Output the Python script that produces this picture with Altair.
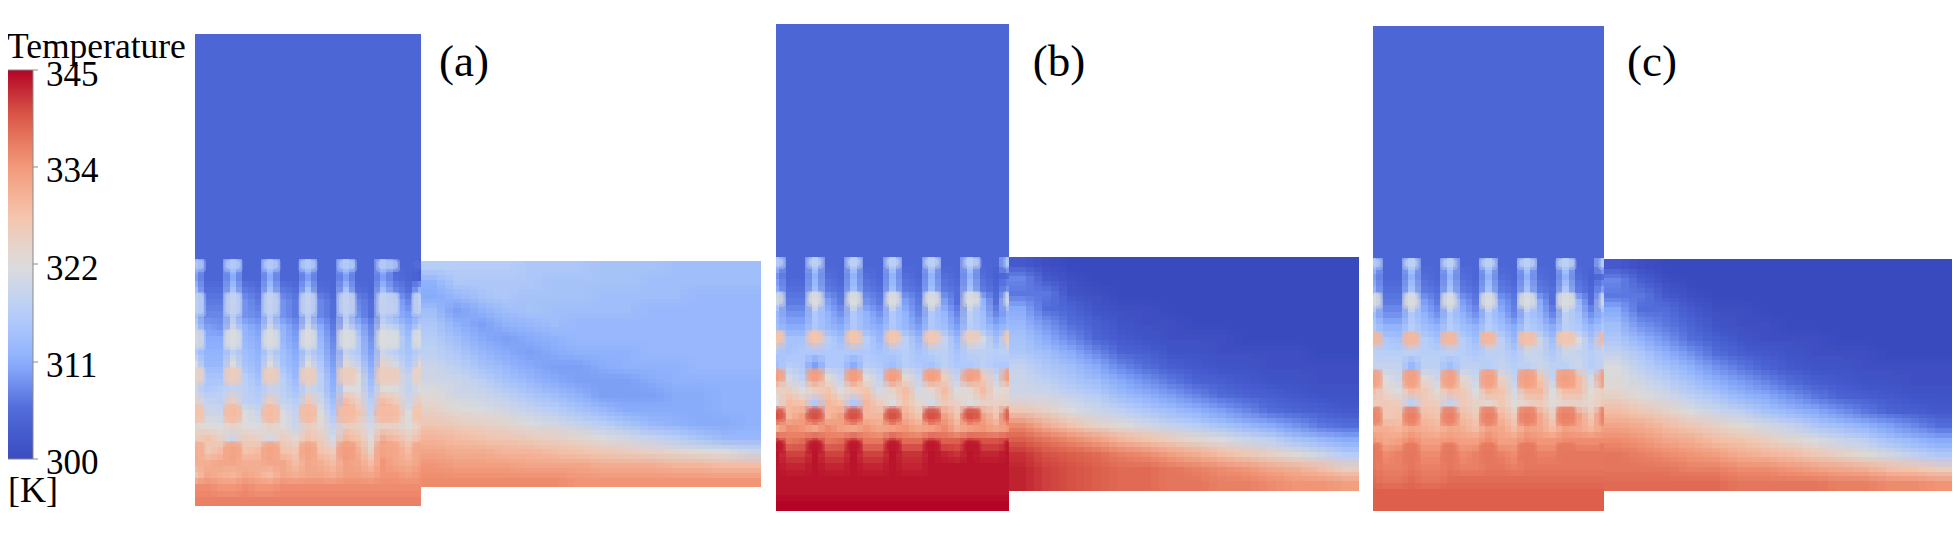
import altair as alt
import pandas as pd

# colour bar
cbar_stops = [300, 305.625, 311.25, 316.875, 322.5, 328.125, 333.75, 339.375, 345]
cbar_colors = ["#3b4cc0", "#4f69d9", "#8db0fe", "#b6cefa", "#dddcdc", "#f5c4ac", "#f49a7b", "#dc5d4a", "#b40426"]
cbar_ticks = [300, 311.25, 322.5, 333.75, 345]
cbar_labels = ["300", "311", "322", "334", "345"]
cbar_label_y = [463, 366, 269, 171, 75]
cbar_tick_y = [459, 362, 264, 167, 70]

# upper block temperature (uniform in all three panels)
upper_t = [305, 305, 305]

# temperature grids (K)
junction_a = [
[312,305,305,314,305,305,314,305,305,314,305,305,314,305,305,313,305,305,303],
[310,305,305,311,305,305,311,305,305,310,305,305,310,305,305,310,306,305,304],
[314,306,306,315,307,306,315,307,306,315,306,305,315,306,305,314,308,306,312],
[316,307,307,318,309,307,318,309,307,318,308,306,318,308,306,318,312,308,316],
[314,308,308,316,309,308,316,309,307,316,308,306,316,309,306,316,312,310,313],
[318,310,309,320,312,310,320,312,309,320,311,307,320,313,308,320,317,312,318],
[320,311,311,322,313,311,322,313,310,322,313,308,322,316,309,323,320,314,321],
[316,312,312,318,314,312,318,314,311,318,314,309,319,316,310,320,317,315,318],
[322,313,313,323,315,313,323,315,312,323,316,310,324,319,311,325,321,316,324],
[325,315,315,326,317,314,326,317,313,326,318,311,327,323,313,327,325,319,325],
[320,316,317,319,318,316,319,318,315,320,318,312,322,322,315,323,322,319,322],
[325,319,318,326,318,317,326,319,317,327,320,314,329,325,317,329,326,320,326],
[330,320,320,331,322,320,331,322,319,331,323,316,332,328,319,332,329,322,328],
[324,323,322,325,323,322,325,323,320,326,324,319,326,325,321,325,325,323,326],
[326,328,325,320,326,325,321,326,324,328,326,321,330,328,323,331,329,326,329],
[332,327,329,334,328,329,334,328,327,334,328,326,335,331,325,335,332,329,332],
[331,331,332,332,331,331,332,332,329,332,331,329,333,332,329,334,332,331,333],
[328,332,331,330,332,331,329,332,331,332,332,331,333,333,332,334,334,333,334],
[335,335,334,334,335,334,334,335,335,335,335,335,335,335,335,335,335,335,335],
[336,336,336,336,336,336,336,336,336,336,336,336,336,336,336,336,336,336,336],
]
duct_a = [
[317,317,317,317,316,316,316,315,315,315,314,314,314,314],
[312,316,316,316,316,315,315,315,315,314,314,314,314,314],
[311,313,315,316,315,315,315,314,314,314,314,313,313,313],
[314,310,312,314,315,314,314,314,314,313,313,313,313,313],
[316,312,310,312,313,314,313,313,313,313,313,313,313,313],
[317,314,311,310,311,312,313,313,313,313,313,313,313,313],
[318,316,313,311,310,311,312,312,312,313,313,313,313,313],
[320,318,315,313,311,310,310,311,312,312,312,313,313,313],
[321,320,318,315,313,311,310,310,310,311,312,312,312,312],
[323,321,320,318,316,314,312,310,310,310,311,311,312,312],
[325,323,322,321,319,317,315,313,311,311,311,311,312,312],
[327,326,325,324,322,321,319,317,315,313,312,311,311,312],
[330,329,328,327,326,325,324,322,321,319,317,315,313,313],
[332,331,331,330,330,329,328,327,326,325,324,323,322,320],
[334,333,333,333,332,332,332,331,331,331,330,330,329,329],
[335,335,335,335,335,335,334,334,334,334,334,334,334,334],
]
junction_b = [
[314,305,305,316,305,305,316,305,305,316,305,305,316,305,305,316,305,305,314],
[309,305,305,312,306,305,312,306,305,312,306,305,312,306,305,312,306,304,306],
[311,306,306,314,307,306,314,307,306,314,307,306,314,307,306,315,307,305,309],
[318,307,307,322,310,307,322,309,307,322,310,307,322,310,306,322,312,306,318],
[313,309,309,316,312,309,316,312,309,316,312,308,316,313,308,318,314,308,312],
[314,311,311,316,313,311,316,313,311,316,313,310,316,314,310,317,315,311,314],
[328,315,315,328,317,314,328,317,313,327,318,313,327,319,313,325,321,314,325],
[316,315,316,316,316,316,316,316,315,316,317,315,317,318,315,318,318,317,318],
[314,317,316,310,316,316,311,317,316,314,317,316,315,318,316,316,318,316,316],
[333,321,318,333,323,319,334,323,319,334,324,319,333,326,319,333,327,320,333],
[325,326,322,326,328,322,326,328,321,325,329,321,324,329,322,324,329,323,324],
[322,329,328,316,330,328,316,330,326,322,328,324,321,327,325,322,325,325,325],
[340,330,333,340,330,333,340,330,330,340,331,328,340,333,328,339,333,328,338],
[331,335,334,332,335,333,332,334,332,333,334,332,333,335,331,333,334,332,334],
[341,337,338,341,337,338,341,337,337,341,338,338,341,339,339,341,340,340,341],
[344,341,341,344,341,341,344,341,341,344,342,342,344,343,342,344,343,343,344],
[344,343,343,344,343,343,344,343,343,344,343,343,344,344,344,344,344,344,344],
[344,344,344,344,344,344,344,344,344,344,344,344,344,344,344,344,344,344,344],
[344,344,344,344,344,344,344,344,344,344,344,344,344,344,344,344,344,344,344],
[345,345,345,345,345,345,345,345,345,345,345,345,345,345,345,345,345,345,345],
]
duct_b = [
[303,301,300,300,300,300,300,300,300,300,300,300,300,300],
[308,303,301,300,300,300,300,300,300,300,300,300,300,300],
[307,307,302,301,300,300,300,300,300,300,300,300,300,300],
[311,306,305,302,301,301,300,300,300,300,300,300,300,300],
[313,309,306,304,302,301,301,300,300,300,300,300,300,300],
[315,311,308,305,303,302,301,301,301,300,300,300,300,300],
[316,314,311,308,305,304,302,302,301,301,301,301,300,300],
[319,316,314,311,308,306,304,303,302,302,301,301,301,301],
[320,318,316,314,311,309,307,305,304,303,302,302,301,301],
[321,321,319,317,314,312,310,308,306,305,304,303,302,302],
[327,325,322,320,318,316,314,312,310,308,306,305,304,303],
[335,331,328,325,323,321,319,317,315,313,311,309,307,306],
[339,337,335,333,330,328,326,324,322,320,318,315,313,311],
[342,340,339,338,336,335,333,331,329,327,325,323,320,317],
[343,341,340,339,338,338,337,336,335,334,332,331,329,326],
[343,341,340,339,338,338,337,337,336,336,335,334,334,333],
]
junction_c = [
[314,305,305,316,305,305,316,305,305,316,305,305,316,305,305,316,305,305,315],
[310,305,305,312,306,305,312,306,305,312,306,305,312,306,305,312,306,304,306],
[312,306,306,315,307,306,315,307,306,315,307,306,315,307,306,316,307,305,310],
[319,307,307,322,310,307,322,310,307,322,310,307,322,311,306,322,313,306,318],
[314,309,309,316,312,309,316,312,309,316,312,308,316,313,308,318,315,309,313],
[316,312,312,317,314,312,317,314,312,317,314,311,317,315,311,318,316,312,316],
[329,316,315,329,317,315,329,317,314,328,318,313,328,320,314,326,322,315,327],
[318,317,317,318,317,317,318,317,316,318,318,316,320,319,316,320,319,317,319],
[319,319,319,313,318,318,314,318,318,317,319,317,318,320,318,318,320,317,319],
[332,322,320,333,324,320,333,324,320,333,325,319,334,328,319,334,329,321,333],
[329,324,322,329,327,323,329,327,322,330,328,321,330,330,322,329,329,323,326],
[326,327,326,318,327,326,319,327,325,324,327,323,325,327,323,325,325,324,327],
[335,327,328,336,329,328,336,329,327,336,330,326,336,332,326,336,333,327,335],
[331,331,330,332,331,330,332,331,329,333,332,329,333,332,329,333,332,330,333],
[334,332,333,335,333,333,334,333,333,335,333,333,335,334,334,335,335,335,335],
[337,335,336,337,335,335,337,335,336,337,336,335,337,336,336,337,337,337,337],
[337,336,336,337,336,336,337,336,336,337,337,336,337,337,337,337,337,337,337],
[338,337,337,338,337,337,338,338,338,338,338,338,338,338,338,338,338,338,338],
[339,339,339,339,339,339,339,339,339,339,339,339,339,339,339,339,339,339,339],
[339,339,339,339,339,339,339,339,339,339,339,339,339,339,339,339,339,339,339],
]
duct_c = [
[303,301,300,300,300,300,300,300,300,300,300,300,300,300],
[308,304,301,300,300,300,300,300,300,300,300,300,300,300],
[307,307,303,301,300,300,300,300,300,300,300,300,300,300],
[311,306,306,303,301,301,300,300,300,300,300,300,300,300],
[314,309,307,305,302,301,301,300,300,300,300,300,300,300],
[316,312,309,306,304,302,301,301,301,300,300,300,300,300],
[319,316,312,309,306,304,303,302,301,301,301,300,300,300],
[322,318,315,312,309,307,305,303,302,302,301,301,301,301],
[323,321,318,315,312,310,308,306,304,303,302,302,301,301],
[325,323,321,318,316,313,311,309,307,305,304,303,302,302],
[329,327,325,322,320,318,315,313,311,309,307,305,304,303],
[332,331,329,327,325,323,321,319,316,314,312,310,308,306],
[335,334,332,331,329,328,326,324,322,320,318,315,313,311],
[337,336,335,334,333,331,330,329,327,325,323,321,318,316],
[337,337,337,336,336,335,335,334,333,332,331,329,328,326],
[338,338,338,338,338,337,337,337,337,336,336,335,335,334],
]

# warm spots behind each tube: one list per tube row, top to bottom, seven tubes left to right
spots_a = [
[316,317,317,317,317,317,306],
[318,319,319,319,319,319,319],
[321,322,322,322,322,322,322],
[325,326,326,326,326,326,325],
[328,329,329,329,329,329,328],
[331,332,332,332,333,332,332],
]
spots_b = [
[317,318,318,318,318,318,316],
[321,322,322,322,322,322,320],
[328,328,328,328,327,326,327],
[333,333,333,333,333,333,333],
[340,340,340,340,340,340,339],
[344,344,344,344,344,344,344],
]
spots_c = [
[317,318,318,318,318,318,317],
[322,322,322,322,322,322,320],
[330,330,330,330,329,328,330],
[333,333,333,333,333,333,333],
[336,336,336,336,336,336,336],
[337,337,337,337,337,337,337],
]

panel_labels = ["(a)", "(b)", "(c)"]
label_x = [464, 1059, 1652]
label_y = [62, 62, 62]

# panel geometry: block left/right/top, junction top/bottom, duct top/bottom/right
geom = [
    dict(l=195, r=421, top=34, jt=259, jb=506, dt=261, db=487, dr=761,
         sx=[197, 233, 271, 308, 347, 388, 418], sw=[18, 19, 19, 19, 20, 24, 14],
         sy=[259, 292, 329, 367, 405, 442], sh=[13, 25, 21, 18, 18, 18]),
    dict(l=776, r=1009, top=24, jt=257, jb=511, dt=257, db=491, dr=1359,
         sx=[778, 815, 854, 893, 932, 972, 1007], sw=[15, 17, 17, 17, 18, 19, 8],
         sy=[257, 291, 330, 369, 408, 440], sh=[12, 16, 13, 13, 14, 14]),
    dict(l=1373, r=1604, top=26, jt=258, jb=511, dt=259, db=491, dr=1952,
         sx=[1375, 1411, 1449, 1488, 1527, 1566, 1603], sw=[15, 17, 17, 18, 20, 21, 9],
         sy=[258, 292, 331, 369, 406, 442], sh=[12, 17, 15, 20, 20, 22]),
]
grids = [(junction_a, duct_a), (junction_b, duct_b), (junction_c, duct_c)]
spots = [spots_a, spots_b, spots_c]


def edges(lo, hi, n, shift, half_ends=False):
    """Cell edges of n cells over [lo, hi], moved by shift and kept inside [lo, hi]."""
    if half_ends:
        w = (hi - lo) / (n - 1)
        e = [lo + (i - 0.5) * w for i in range(n + 1)]
    else:
        w = (hi - lo) / n
        e = [lo + i * w for i in range(n + 1)]
    e = [min(hi, max(lo, v + shift * w)) for v in e]
    e[0], e[-1] = lo, hi
    return [round(v) for v in e]


rows = []
shifts4 = [(-0.25, -0.25), (0.25, -0.25), (-0.25, 0.25), (0.25, 0.25)]
shifts9 = [(a, b) for a in (-1 / 3, 0, 1 / 3) for b in (-1 / 3, 0, 1 / 3)]


def add_grid(grid, xlo, xhi, ylo, yhi, half_ends, shifts):
    nr, nc = len(grid), len(grid[0])
    for k, (sx, sy) in enumerate(shifts):
        xe = edges(xlo, xhi, nc, sx, half_ends)
        ye = edges(ylo, yhi, nr, sy)
        for r in range(nr):
            for c in range(nc):
                if xe[c + 1] > xe[c] and ye[r + 1] > ye[r]:
                    rows.append(dict(x=xe[c], x2=xe[c + 1], y=ye[r], y2=ye[r + 1], t=grid[r][c], o=1 / (k + 1)))


for g, tu in zip(geom, upper_t):
    rows.append(dict(x=g["l"], x2=g["r"], y=g["top"], y2=g["jt"], t=tu, o=1.0))
for g, (jg, dg) in zip(geom, grids):
    add_grid(dg, g["r"], g["dr"], g["dt"], g["db"], False, shifts9)
for g, (jg, dg) in zip(geom, grids):
    add_grid(jg, g["l"], g["r"], g["jt"], g["jb"], True, shifts4)

cells = pd.DataFrame(rows)

spot_rows = []
for g, sp in zip(geom, spots):
    for r, row in enumerate(sp):
        for c, t in enumerate(row):
            cx, w, top, h = g["sx"][c], g["sw"][c], g["sy"][r], g["sh"][r]
            for inset, op in ((0, 0.4), (2, 0.5), (3, 0.4)):
                x0 = max(g["l"], cx - w / 2 + inset)
                x1 = min(g["r"], cx + w / 2 - inset)
                y0 = top + inset / 2
                y1 = top + h - inset * 1.2
                if x1 > x0 and y1 > y0:
                    spot_rows.append(dict(x=x0, x2=x1, y=y0, y2=y1, t=t, o=op))
spot_df = pd.DataFrame(spot_rows)

X = alt.Scale(domain=[8, 1952])
Y = alt.Scale(domain=[527, 8])
FONT = "Liberation Serif"
CS = alt.Scale(domain=cbar_stops, range=cbar_colors, interpolate="rgb")

field = alt.Chart(cells).mark_rect(strokeWidth=0).encode(
    x=alt.X("x:Q", scale=X, axis=None),
    x2="x2:Q",
    y=alt.Y("y:Q", scale=Y, axis=None),
    y2="y2:Q",
    opacity=alt.Opacity("o:Q", scale=None, legend=None),
    color=alt.Color(
        "t:Q",
        scale=CS,
        legend=alt.Legend(
            type="gradient", orient="none", legendX=-3, legendY=62,
            title=None, padding=0,
            gradientLength=389, gradientThickness=28,
            gradientStrokeColor="#888888", gradientStrokeWidth=1,
            values=cbar_ticks, labelOpacity=0, labelFontSize=1,
        ),
    ),
)

spot_layer = alt.Chart(spot_df).mark_rect(strokeWidth=0, cornerRadius=3).encode(
    x=alt.X("x:Q", scale=X, axis=None),
    x2="x2:Q",
    y=alt.Y("y:Q", scale=Y, axis=None),
    y2="y2:Q",
    opacity=alt.Opacity("o:Q", scale=None, legend=None),
    color=alt.Color("t:Q", scale=CS, legend=None),
)

tick_df = pd.DataFrame({"y": cbar_tick_y, "a": [33] * 5, "b": [38] * 5})
tick_rule = alt.Chart(tick_df).mark_rule(color="#888888", strokeWidth=1).encode(
    x=alt.X("a:Q", scale=X, axis=None), x2="b:Q", y=alt.Y("y:Q", scale=Y, axis=None)
)


def text(df, size, align="center"):
    return alt.Chart(df).mark_text(font=FONT, fontSize=size, color="black", align=align, baseline="middle").encode(
        x=alt.X("x:Q", scale=X, axis=None), y=alt.Y("y:Q", scale=Y, axis=None), text="s:N"
    )


label_layer = text(pd.DataFrame({"x": label_x, "y": label_y, "s": panel_labels}), 45)
title_layer = text(pd.DataFrame({"x": [7], "y": [47], "s": ["Temperature"]}), 35.5, "left")
unit_layer = text(pd.DataFrame({"x": [8], "y": [491], "s": ["[K]"]}), 36, "left")
tick_labels = text(pd.DataFrame({"x": [46] * 5, "y": cbar_label_y, "s": cbar_labels}), 35, "left")

chart = alt.layer(field, spot_layer, tick_rule, tick_labels, label_layer, title_layer, unit_layer).properties(
    width=1944, height=519, padding=0, autosize=alt.AutoSizeParams(type="none")
).resolve_scale(color="shared").configure_view(stroke=None)

chart.save("out.html", embed_options={"renderer": "svg", "actions": False})
